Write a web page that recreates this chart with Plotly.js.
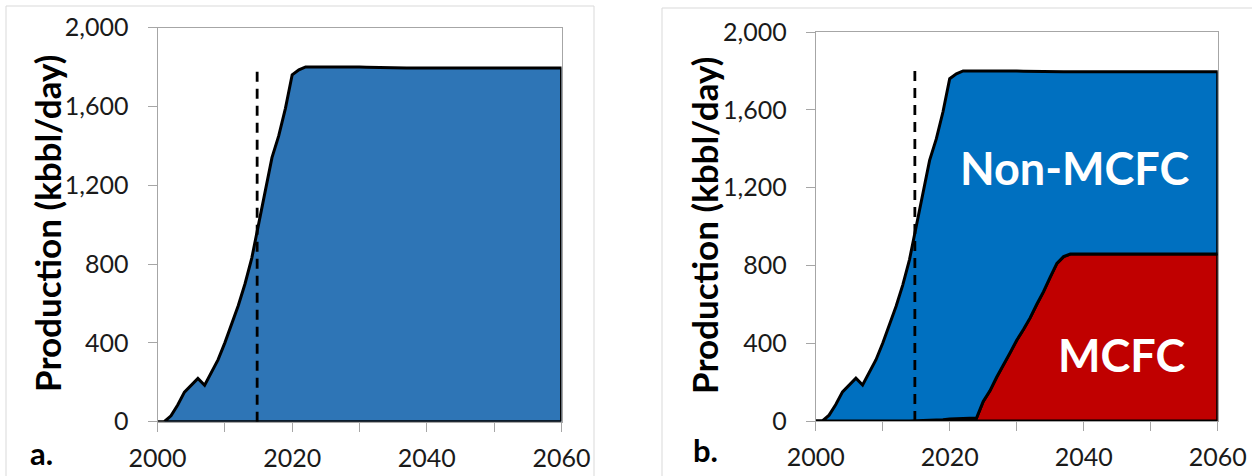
<!DOCTYPE html>
<html>
<head>
<meta charset="utf-8">
<script src="https://cdn.plot.ly/plotly-3.0.1.min.js"></script>
<style>
  html, body { margin: 0; padding: 0; background: #ffffff; }
  #chart { width: 1252px; height: 476px; }
</style>
</head>
<body>
<div id="chart"></div>
<script>
// ---- Data ----
const years = [2000, 2001, 2002, 2003, 2004, 2005, 2006, 2007, 2008, 2009, 2010,
               2011, 2012, 2013, 2014, 2015, 2016, 2017, 2018, 2019, 2020,
               2021, 2022, 2024, 2025, 2026, 2027, 2028, 2029, 2030, 2031,
               2032, 2033, 2034, 2035, 2036, 2037, 2038, 2045, 2060];
// total production, kbbl/day
const totalProd = [0, 0, 30, 85, 150, 185, 220, 185, 250, 315, 400,
                   490, 590, 700, 830, 1000, 1170, 1340, 1450, 1590, 1760,
                   1785, 1800, 1800, 1800, 1801, 1802, 1802, 1800, 1799, 1798,
                   1797, 1796, 1796, 1795, 1795, 1795, 1795, 1795, 1795];
// MCFC share of production, kbbl/day (panel b)
const mcfcProd = [0, 0, 0, 0, 0, 0, 0, 0, 0, 0, 0,
                  0, 0, 0, 0, 1, 2, 3, 4, 6, 10,
                  14, 14, 15, 100, 155, 225, 290, 350, 415, 470,
                  530, 600, 665, 740, 810, 845, 858, 858, 858];
const historyEndYear = 2014.8;   // dashed marker
const markerTop = 1800;
const yTicks = [0, 400, 800, 1200, 1600, 2000];
const yTickText = ['0', '400', '800', '1,200', '1,600', '2,000'];
const yTitle = 'Production (kbbl/day)';
const panelLabels = ['a.', 'b.'];
const areaLabels = ['Non-MCFC', 'MCFC'];

// ---- Build polygons from the data ----
const x0 = years[0], x1 = years[years.length - 1];
const W = 1252, H = 476;
const revYears = years.slice().reverse();
const revMcfc = mcfcProd.slice().reverse();

const outline = { color: '#000000', width: 3 };

const traces = [
  { // panel a: total
    x: years.concat([x1, x0]), y: totalProd.concat([0, 0]),
    xaxis: 'x', yaxis: 'y', type: 'scatter', mode: 'lines',
    fill: 'toself', fillcolor: '#2E75B6', line: outline, hoverinfo: 'skip'
  },
  { // panel b: MCFC
    x: years.concat([x1, x0]), y: mcfcProd.concat([0, 0]),
    xaxis: 'x2', yaxis: 'y2', type: 'scatter', mode: 'lines',
    fill: 'toself', fillcolor: '#C00000', line: outline, hoverinfo: 'skip'
  },
  { // panel b: Non-MCFC (between MCFC and total)
    x: years.concat(revYears), y: totalProd.concat(revMcfc),
    xaxis: 'x2', yaxis: 'y2', type: 'scatter', mode: 'lines',
    fill: 'toself', fillcolor: '#0070C0', line: outline, hoverinfo: 'skip'
  }
];

const FAM = 'Lato, "Open Sans", sans-serif';
const tickFont = { family: FAM, size: 25, color: '#1a1a1a' };
const titleFont = { family: FAM, size: 35, color: '#000000' };

function xAxis(domain) {
  return {
    domain: domain, range: [x0, x1], tickvals: [2000, 2010, 2020, 2030, 2040, 2050, 2060],
    ticktext: ['2000', '', '2020', '', '2040', '', '2060'],
    ticks: 'outside', ticklen: 9, tickwidth: 1, tickcolor: '#a6a6a6',
    showline: true, linecolor: '#a6a6a6', linewidth: 1, mirror: true,
    showgrid: false, zeroline: false, tickfont: tickFont, ticklabelstandoff: 5,
    fixedrange: true
  };
}
function yAxis(domain, anchor) {
  return {
    domain: domain, anchor: anchor, range: [0, 2000], tickvals: yTicks, ticktext: yTickText,
    ticks: 'outside', ticklen: 9, tickwidth: 1, tickcolor: '#a6a6a6',
    showline: true, linecolor: '#a6a6a6', linewidth: 1, mirror: true,
    showgrid: false, zeroline: false, tickfont: tickFont, ticklabelstandoff: 14,
    fixedrange: true
  };
}

const layout = {
  width: W, height: H,
  margin: { l: 0, r: 0, t: 0, b: 0 },
  paper_bgcolor: '#ffffff', plot_bgcolor: '#ffffff',
  showlegend: false,
  xaxis: Object.assign(xAxis([157.5 / W, 561.5 / W]), { anchor: 'y' }),
  yaxis: yAxis([(H - 421.7) / H, (H - 27.5) / H], 'x'),
  xaxis2: Object.assign(xAxis([815.7 / W, 1217.7 / W]), { anchor: 'y2' }),
  yaxis2: yAxis([(H - 421) / H, (H - 32) / H], 'x2'),
  shapes: [
    { type: 'line', xref: 'x', yref: 'y', x0: historyEndYear, x1: historyEndYear, y0: 0, y1: markerTop,
      line: { color: '#000000', width: 2.8, dash: '10px,7px' } },
    { type: 'line', xref: 'x2', yref: 'y2', x0: historyEndYear, x1: historyEndYear, y0: 0, y1: markerTop,
      line: { color: '#000000', width: 2.8, dash: '10px,7px' } },
    { type: 'rect', xref: 'paper', yref: 'paper', x0: 6 / W, x1: 594 / W, y0: -0.05, y1: (H - 6) / H,
      line: { color: '#d9d9d9', width: 1 }, layer: 'below' },
    { type: 'rect', xref: 'paper', yref: 'paper', x0: 662 / W, x1: 1.05, y0: -0.05, y1: (H - 8) / H,
      line: { color: '#d9d9d9', width: 1 }, layer: 'below' }
  ],
  annotations: [
    { xref: 'paper', yref: 'paper', x: 47 / W, y: (H - 224) / H, text: '<b>' + yTitle + '</b>',
      textangle: -90, showarrow: false, xanchor: 'center', yanchor: 'middle', font: titleFont },
    { xref: 'paper', yref: 'paper', x: 704 / W, y: (H - 226) / H, text: '<b>' + yTitle + '</b>',
      textangle: -90, showarrow: false, xanchor: 'center', yanchor: 'middle', font: titleFont },
    { xref: 'paper', yref: 'paper', x: 41 / W, y: (H - 453) / H, text: '<b>' + panelLabels[0] + '</b>',
      showarrow: false, xanchor: 'center', yanchor: 'middle',
      font: { family: FAM, size: 31, color: '#000' } },
    { xref: 'paper', yref: 'paper', x: 705 / W, y: (H - 450) / H, text: '<b>' + panelLabels[1] + '</b>',
      showarrow: false, xanchor: 'center', yanchor: 'middle',
      font: { family: FAM, size: 31, color: '#000' } },
    { xref: 'x2', yref: 'y2', x: 2038.7, y: 1303, text: '<b>' + areaLabels[0] + '</b>',
      showarrow: false, xanchor: 'center', yanchor: 'middle',
      font: { family: FAM, size: 45, color: '#ffffff' } },
    { xref: 'x2', yref: 'y2', x: 2045.6, y: 339, text: '<b>' + areaLabels[1] + '</b>',
      showarrow: false, xanchor: 'center', yanchor: 'middle',
      font: { family: FAM, size: 45, color: '#ffffff' } }
  ]
};

Plotly.newPlot('chart', traces, layout, { displayModeBar: false, staticPlot: true });
</script>
</body>
</html>
